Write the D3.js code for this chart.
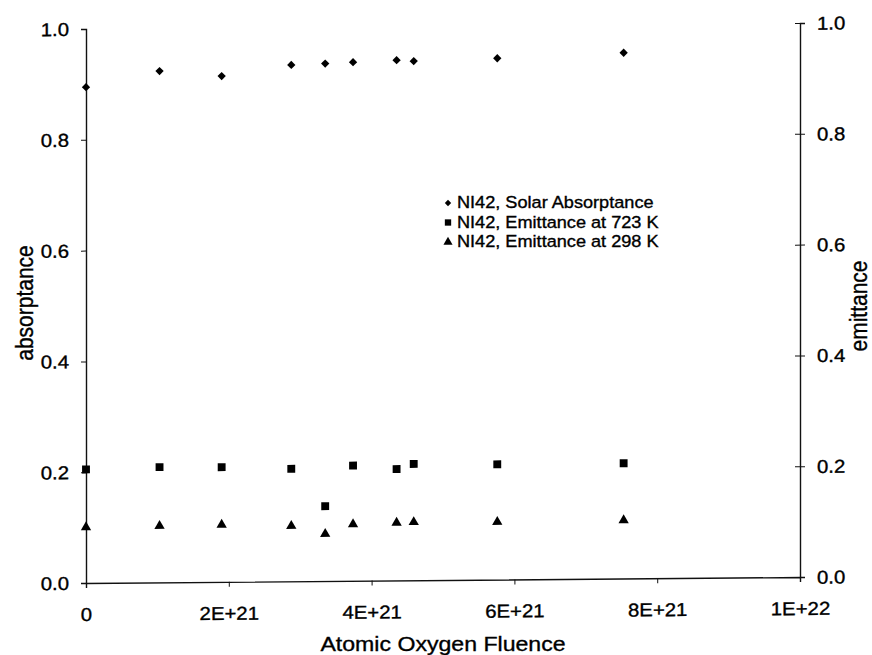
<!DOCTYPE html>
<html>
<head>
<meta charset="utf-8">
<script src="https://cdn.jsdelivr.net/npm/d3@7"></script>
<style>
  body { margin: 0; background: #fff; }
  text { font-family: "Liberation Sans", Arial, sans-serif; fill: #000; stroke: #000; stroke-width: 0.35px; }
</style>
</head>
<body>
<svg width="872" height="655"></svg>
<script>
// fluence values (atoms/cm2)
var fluence = [0, 1.03e21, 1.90e21, 2.875e21, 3.35e21, 3.74e21, 4.35e21, 4.59e21, 5.76e21, 7.53e21];
var solarAbs = [0.895, 0.923, 0.913, 0.932, 0.934, 0.936, 0.939, 0.937, 0.941, 0.949];
var emit723 = [0.205, 0.208, 0.207, 0.203, 0.135, 0.208, 0.201, 0.210, 0.208, 0.208];
var emit298 = [0.1005, 0.102, 0.103, 0.100, 0.085, 0.102, 0.104, 0.105, 0.104, 0.105];

var xTicks = [0, 2e21, 4e21, 6e21, 8e21, 1e22];
var xTickLabels = ["0", "2E+21", "4E+21", "6E+21", "8E+21", "1E+22"];
var yTicks = [0, 0.2, 0.4, 0.6, 0.8, 1.0];

var seriesNames = ["NI42, Solar Absorptance", "NI42, Emittance at 723 K", "NI42, Emittance at 298 K"];

var K = 1.1; // horizontal stretch of the scanned text

var svg = d3.select("svg"),
  width = 714,
  height = 554;

var x = d3.scaleLinear().domain([0, 1e22]).range([0, width]);
var y = d3.scaleLinear().domain([0, 1]).range([height, 0]);

// the scan is slightly sheared, right side sits a few px higher
var g = svg.append("g").attr("transform", "translate(86,29) skewY(-0.48)");

// stretch text horizontally keeping its anchor point
function stretch(sel) {
  sel.each(function () {
    var t = d3.select(this);
    var ax = +t.attr("x") || 0;
    t.attr("transform", "translate(" + ax + ",0) scale(" + K + ",1) translate(" + -ax + ",0)");
  });
}

function styleAxis(a) {
  a.select(".domain").attr("stroke", "#111").attr("stroke-width", 1.4);
  a.selectAll(".tick line").attr("stroke", "#111").attr("stroke-width", 1);
  a.selectAll(".tick text").attr("font-size", "18.5px").attr("fill", "#000");
}

// bottom axis
var xAxis = g.append("g")
  .attr("transform", "translate(0," + height + ")")
  .call(d3.axisBottom(x).tickValues(xTicks).tickSizeOuter(0).tickSize(5)
    .tickFormat(function (d, i) { return xTickLabels[i]; }));
styleAxis(xAxis);
xAxis.selectAll(".tick text").attr("y", 38).attr("dy", 0);
stretch(xAxis.selectAll(".tick text"));

// left axis
var yAxis = g.append("g")
  .call(d3.axisLeft(y).tickValues(yTicks).tickSizeOuter(0).tickSize(5).tickFormat(d3.format(".1f")));
styleAxis(yAxis);
yAxis.selectAll(".tick text").attr("x", -17).attr("dy", "0.34em");
stretch(yAxis.selectAll(".tick text"));

// right axis, ticks cross the line
var yAxisR = g.append("g")
  .attr("transform", "translate(" + width + ",0)")
  .call(d3.axisRight(y).tickValues(yTicks).tickSizeOuter(0).tickSize(5).tickFormat(d3.format(".1f")));
styleAxis(yAxisR);
yAxisR.selectAll(".tick line").attr("x1", -5).attr("x2", 5);
yAxisR.selectAll(".tick text").attr("x", 17).attr("dy", "0.34em");
stretch(yAxisR.selectAll(".tick text"));

// markers
var diamond = d3.symbol().type(d3.symbolDiamond2).size(44);
var square = d3.symbol().type(d3.symbolSquare).size(62);
var triangle = d3.symbol().type(d3.symbolTriangle).size(46);

var series = [
  { values: solarAbs, sym: diamond },
  { values: emit723, sym: square },
  { values: emit298, sym: triangle }
];

series.forEach(function (s) {
  g.append("g")
    .selectAll("path")
    .data(fluence)
    .enter()
    .append("path")
    .attr("d", s.sym)
    .attr("fill", "#000")
    .attr("transform", function (d, i) {
      return "translate(" + x(d) + "," + y(s.values[i]) + ")";
    });
});

// axis titles
svg.append("text")
  .attr("transform", "translate(443,651) scale(" + K + ",1)")
  .attr("text-anchor", "middle")
  .attr("font-size", "21px")
  .text("Atomic Oxygen Fluence");

svg.append("text")
  .attr("transform", "translate(33,303) rotate(-90) scale(1," + K + ")")
  .attr("text-anchor", "middle")
  .attr("font-size", "21px")
  .text("absorptance");

svg.append("text")
  .attr("transform", "translate(867,306) rotate(-90) scale(1," + K + ")")
  .attr("text-anchor", "middle")
  .attr("font-size", "21px")
  .text("emittance");

// legend
var legendSyms = [
  d3.symbol().type(d3.symbolDiamond2).size(26),
  d3.symbol().type(d3.symbolSquare).size(40),
  d3.symbol().type(d3.symbolTriangle).size(36)
];
var legend = svg.append("g").attr("transform", "translate(448,203)");
seriesNames.forEach(function (name, i) {
  var row = legend.append("g").attr("transform", "translate(0," + i * 19.5 + ")");
  row.append("path").attr("d", legendSyms[i]).attr("fill", "#000");
  row.append("text")
    .attr("x", 9)
    .attr("y", 5)
    .attr("font-size", "16.5px")
    .text(name);
  stretch(row.select("text"));
});
</script>
</body>
</html>
